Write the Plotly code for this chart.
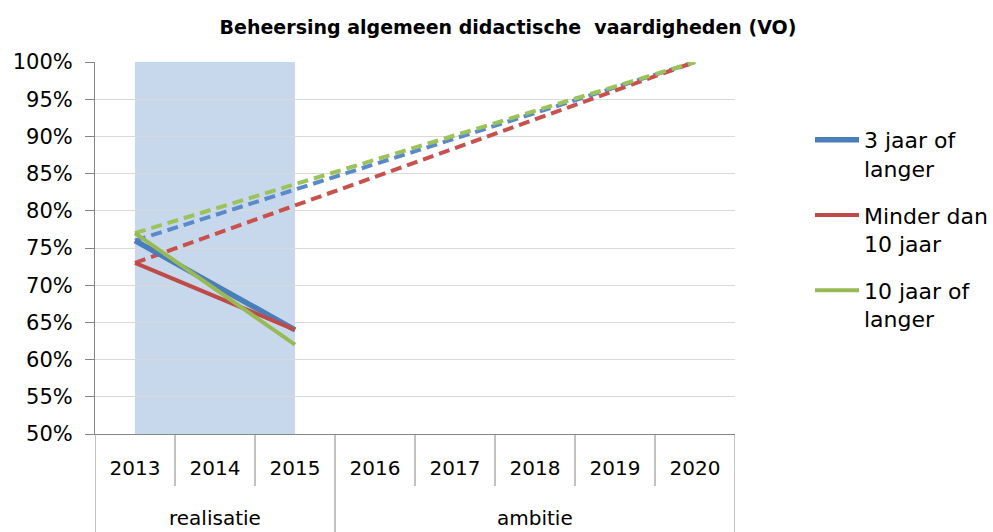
import plotly.graph_objects as go

# ---- data ----
years = ["2013", "2014", "2015", "2016", "2017", "2018", "2019", "2020"]
group_names = ["realisatie", "ambitie"]
group_sizes = [3, 5]

series_names = ["3 jaar of<br>langer", "Minder dan<br>10 jaar", "10 jaar of<br>langer"]
series_colors = ["#4A7EBB", "#BE4B48", "#98B954"]
series_widths = [5.5, 4, 4]

real_years = ["2013", "2015"]
real_values = {
    "3 jaar of<br>langer": [76, 64],
    "Minder dan<br>10 jaar": [73, 64],
    "10 jaar of<br>langer": [77, 62],
}
amb_years = ["2013", "2020"]
amb_values = {
    "3 jaar of<br>langer": [76, 100],
    "Minder dan<br>10 jaar": [73, 100],
    "10 jaar of<br>langer": [77, 100],
}
shade_years = ["2013", "2015"]
y_ticks = [50, 55, 60, 65, 70, 75, 80, 85, 90, 95, 100]
title_text = "Beheersing algemeen didactische  vaardigheden (VO)"

FONT = "DejaVu Sans"
AXIS_COLOR = "#868686"

W, H = 993, 532
L, R, T, B = 95, 258, 62, 98
plot_h = H - T - B

fig = go.Figure()

# dashed ambition lines (drawn first)
dash_colors = ["#5A8ACB", "#C9504D", "#9BC35A"]
for name, col in zip(series_names, dash_colors):
    fig.add_trace(go.Scatter(
        x=amb_years, y=amb_values[name], mode="lines",
        line=dict(color=col, width=4, dash="11px,6px"),
        showlegend=False, hoverinfo="skip"))

# solid realisation lines
for name, col, w in zip(series_names, series_colors, series_widths):
    fig.add_trace(go.Scatter(
        x=real_years, y=real_values[name], mode="lines", name=name,
        line=dict(color=col, width=w), legendgroup=name))

shapes = []
# shaded realisation band
shapes.append(dict(type="rect", xref="x", yref="y",
                   x0=years.index(shade_years[0]), x1=years.index(shade_years[1]),
                   y0=y_ticks[0], y1=y_ticks[-1],
                   fillcolor="#C8D8EC", line=dict(width=0), layer="below"))

# category separators below the axis
group_bounds = set()
acc = 0
for s in group_sizes:
    group_bounds.add(acc)
    acc += s
group_bounds.add(acc)
for i in range(len(years) + 1):
    long = i in group_bounds
    y1 = -(B / plot_h) if long else -(52 / plot_h)
    shapes.append(dict(type="line", xref="x", yref="paper",
                       x0=i - 0.5, x1=i - 0.5, y0=0, y1=y1,
                       line=dict(color=AXIS_COLOR, width=1)))

annotations = []
acc = 0
for g, s in zip(group_names, group_sizes):
    center = acc + (s - 1) / 2
    annotations.append(dict(x=center, y=-(518 - (H - B)) / plot_h, xref="x", yref="paper",
                            text=g, showarrow=False, xanchor="center", yanchor="middle",
                            font=dict(family=FONT, size=20, color="#000000")))
    acc += s

fig.update_layout(
    width=W, height=H,
    margin=dict(l=L, r=R, t=T, b=B, autoexpand=False),
    paper_bgcolor="white", plot_bgcolor="white",
    title=dict(text="<b>" + title_text + "</b>", x=508 / W, xanchor="center",
               y=1 - 27 / H, yanchor="middle", xref="container", yref="container",
               automargin=False,
               font=dict(family=FONT, size=19, color="#000000")),
    shapes=shapes, annotations=annotations,
    legend=dict(x=(810 - L) / (W - L - R), xanchor="left",
                y=(H - B - 119) / plot_h, yanchor="top",
                font=dict(family=FONT, size=22, color="#000000"),
                valign="top", tracegroupgap=15, itemwidth=44,
                bgcolor="rgba(0,0,0,0)"),
    xaxis=dict(type="category", categoryorder="array", categoryarray=years,
               range=[-0.5, len(years) - 0.5], showgrid=False, automargin=False,
               showline=True, linecolor=AXIS_COLOR, linewidth=1,
               ticks="", tickfont=dict(family=FONT, size=20, color="#000000"),
               ticklabelstandoff=16, fixedrange=True),
    yaxis=dict(range=[y_ticks[0], y_ticks[-1]], tickvals=y_ticks, automargin=False,
               ticktext=[f"{v}%" for v in y_ticks],
               showgrid=True, gridcolor="#D9D9D9", gridwidth=1,
               showline=True, linecolor=AXIS_COLOR, linewidth=1,
               ticks="outside", ticklen=9, tickcolor=AXIS_COLOR,
               tickfont=dict(family=FONT, size=21, color="#000000"),
               ticklabelstandoff=8, zeroline=False, fixedrange=True),
    showlegend=True,
)

fig.write_html("out.html", config={"displayModeBar": False},
               post_script="document.body.style.margin='0px';")
